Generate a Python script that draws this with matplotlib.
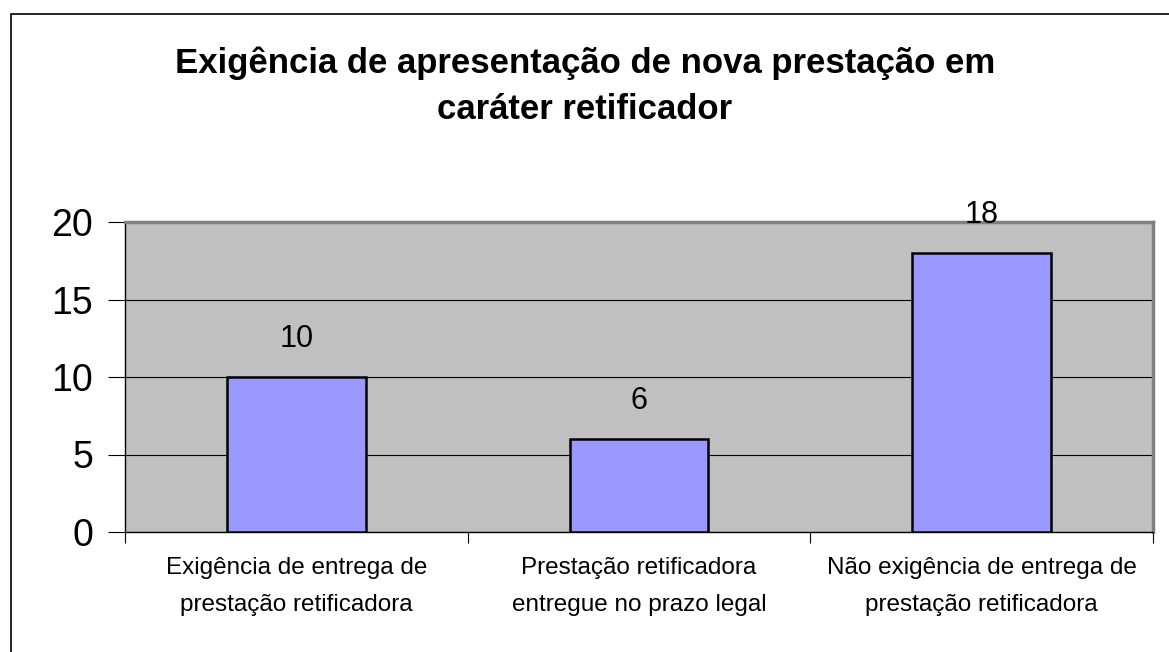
import matplotlib.pyplot as plt
from matplotlib.patches import Rectangle

plt.rcParams["font.family"] = ["Liberation Sans", "DejaVu Sans"]

categories = [
    "Exigência de entrega de\nprestação retificadora",
    "Prestação retificadora\nentregue no prazo legal",
    "Não exigência de entrega de\nprestação retificadora",
]
values = [10, 6, 18]
title = "Exigência de apresentação de nova prestação em\ncaráter retificador"

W, H = 1169, 652
fig = plt.figure(figsize=(W / 100, H / 100), dpi=100)

# moldura externa
fig.patches.append(Rectangle((11 / W, -0.1), 1.2, 1 - 14 / H + 0.1,
                             transform=fig.transFigure, fill=False,
                             edgecolor="black", linewidth=1.2))

ax = fig.add_axes([125 / W, 1 - 532 / H, (1153 - 125) / W, (532 - 222) / H])
ax.set_facecolor("#C0C0C0")

x = range(len(values))
ax.bar(x, values, width=0.405, color="#9999FF", edgecolor="black",
       linewidth=1.8, zorder=3)

for i, v in zip(x, values):
    ax.text(i, v + 1.5, str(v), ha="center", va="bottom", fontsize=22)

ax.set_xlim(-0.5, 2.5)
ax.set_ylim(0, 20)
ax.set_yticks([0, 5, 10, 15, 20])
ax.tick_params(axis="y", labelsize=27, length=12, direction="out", pad=11)
ax.yaxis.grid(True, color="black", linewidth=0.8, zorder=1)

ax.set_xticks([-0.5, 0.5, 1.5, 2.5])
ax.set_xticklabels([])
ax.tick_params(axis="x", length=8, direction="out")
for i, c in enumerate(categories):
    ax.text(i, -1.6, c, ha="center", va="top", fontsize=17.5,
            linespacing=1.9, transform=ax.transData)

for s in ["top", "right"]:
    ax.spines[s].set_color("#808080")
    ax.spines[s].set_linewidth(2.5)
for s in ["left", "bottom"]:
    ax.spines[s].set_color("black")
    ax.spines[s].set_linewidth(1)

fig.text(585 / W, 1 - 86 / H, title, ha="center", va="center",
         fontsize=25, fontweight="bold", linespacing=1.5)

plt.savefig("out.png", dpi=100)
plt.close()
